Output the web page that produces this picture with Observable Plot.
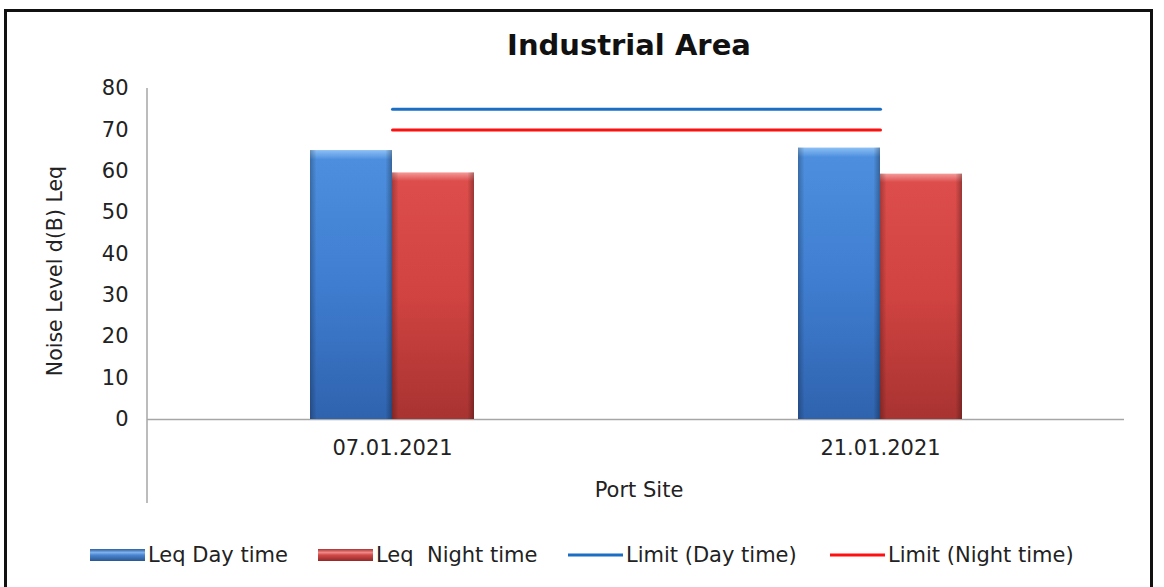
<!DOCTYPE html>
<html>
<head>
<meta charset="utf-8">
<script src="https://cdn.jsdelivr.net/npm/d3@7"></script>
<script src="https://cdn.jsdelivr.net/npm/@observablehq/plot@0.6"></script>
<style>
  html, body { margin: 0; padding: 0; background: #fff; }
  #page { position: relative; width: 1164px; height: 587px; overflow: hidden; font-family: "DejaVu Sans", Verdana, sans-serif; color: #222; }
  #border { position: absolute; left: 4px; top: 9px; width: 1149px; height: 620px; border: 3px solid #111; box-sizing: border-box; }
  #title { position: absolute; left: 0; width: 1258px; top: 28px; text-align: center; font-weight: bold; font-size: 29px; color: #111; }
  #chart { position: absolute; left: 0; top: 60px; }
  #ylabel { position: absolute; left: 55px; top: 271px; transform: translate(-50%, -50%) rotate(-90deg); white-space: nowrap; font-size: 20.5px; }
  #xlabel { position: absolute; left: 639px; top: 490px; transform: translate(-50%, -50%); white-space: nowrap; font-size: 21px; }
  .leg { position: absolute; top: 555px; transform: translateY(-50%); display: flex; align-items: center; font-size: 21px; white-space: pre; }
  .sw { display: inline-block; margin-right: 3px; }
</style>
</head>
<body>
<svg width="0" height="0" style="position:absolute">
  <defs>
    <linearGradient id="gBlue" x1="0" y1="0" x2="0" y2="1">
      <stop offset="0" stop-color="#8cc0f5"/>
      <stop offset="0.035" stop-color="#4d8fde"/>
      <stop offset="0.5" stop-color="#3f7dd0"/>
      <stop offset="1" stop-color="#2f63ae"/>
    </linearGradient>
    <linearGradient id="gRed" x1="0" y1="0" x2="0" y2="1">
      <stop offset="0" stop-color="#f49a98"/>
      <stop offset="0.035" stop-color="#dc4d4b"/>
      <stop offset="0.5" stop-color="#d04341"/>
      <stop offset="1" stop-color="#a83331"/>
    </linearGradient>
    <linearGradient id="gBlueLeg" x1="0" y1="0" x2="0" y2="1">
      <stop offset="0" stop-color="#2f5e9e"/>
      <stop offset="0.3" stop-color="#7fb3ee"/>
      <stop offset="0.5" stop-color="#4b86d2"/>
      <stop offset="1" stop-color="#2a568f"/>
    </linearGradient>
    <linearGradient id="gRedLeg" x1="0" y1="0" x2="0" y2="1">
      <stop offset="0" stop-color="#a83331"/>
      <stop offset="0.3" stop-color="#f08a88"/>
      <stop offset="0.5" stop-color="#d24a48"/>
      <stop offset="1" stop-color="#902a28"/>
    </linearGradient>
    <linearGradient id="gShade" x1="0" y1="0" x2="1" y2="0">
      <stop offset="0" stop-color="#000" stop-opacity="0.25"/>
      <stop offset="0.08" stop-color="#000" stop-opacity="0.0"/>
      <stop offset="0.92" stop-color="#000" stop-opacity="0.0"/>
      <stop offset="1" stop-color="#000" stop-opacity="0.3"/>
    </linearGradient>
  </defs>
</svg>
<div id="page">
  <div id="border"></div>
  <div id="title">Industrial Area</div>
  <div id="chart"></div>
  <div id="ylabel"></div>
  <div id="xlabel"></div>
  <div id="legend"></div>
</div>
<script>
// ---- data ----
const dates = ["07.01.2021", "21.01.2021"];
const leqDay = [65.0, 65.6];
const leqNight = [59.6, 59.3];
const limitDay = [75, 75];
const limitNight = [70, 70];
const seriesNames = ["Leq Day time", "Leq  Night time", "Limit (Day time)", "Limit (Night time)"];
const yTicks = [0, 10, 20, 30, 40, 50, 60, 70, 80];
const titleText = "Industrial Area";
const yLabelText = "Noise Level d(B) Leq";
const xLabelText = "Port Site";

const dayRows = dates.map((d, i) => ({date: d, value: leqDay[i]}));
const nightRows = dates.map((d, i) => ({date: d, value: leqNight[i]}));
const limDayRows = dates.map((d, i) => ({date: d, value: limitDay[i]}));
const limNightRows = dates.map((d, i) => ({date: d, value: limitNight[i]}));

const chart = Plot.plot({
  width: 1164,
  height: 460,
  marginLeft: 147,
  marginRight: 40,
  marginTop: 28,
  marginBottom: 101,
  style: {fontFamily: "'DejaVu Sans', Verdana, sans-serif", fontSize: "21px", color: "#222", background: "transparent", overflow: "visible"},
  x: {type: "band", domain: dates, padding: 0, tickSize: 0, tickPadding: 21, label: null},
  y: {domain: [0, 80], ticks: yTicks, tickSize: 0, tickPadding: 19, label: null},
  marks: [
    Plot.ruleY([0], {stroke: "#a6a6a6", strokeWidth: 1.5}),
    Plot.barY(dayRows, {x: "date", y: "value", fill: "url(#gBlue)", insetLeft: 162, insetRight: 244}),
    Plot.barY(dayRows, {x: "date", y: "value", fill: "url(#gShade)", insetLeft: 162, insetRight: 244}),
    Plot.barY(nightRows, {x: "date", y: "value", fill: "url(#gRed)", insetLeft: 244, insetRight: 162}),
    Plot.barY(nightRows, {x: "date", y: "value", fill: "url(#gShade)", insetLeft: 244, insetRight: 162}),
    Plot.lineY(limDayRows, {x: "date", y: "value", stroke: "#1a6fc4", strokeWidth: 3}),
    Plot.lineY(limNightRows, {x: "date", y: "value", stroke: "#ff1010", strokeWidth: 3})
  ]
});
document.getElementById("chart").appendChild(chart);

// vertical axis line, extending below zero like the reference
const ys = chart.scale("y");
d3.select(chart).append("line")
  .attr("x1", 147).attr("x2", 147)
  .attr("y1", ys.apply(80)).attr("y2", ys.apply(0) + 84)
  .attr("stroke", "#a6a6a6").attr("stroke-width", 1.5);

document.getElementById("title").textContent = titleText;
document.getElementById("ylabel").textContent = yLabelText;
document.getElementById("xlabel").textContent = xLabelText;

// legend
const legendItems = [
  {name: seriesNames[0], kind: "bar", fill: "url(#gBlueLeg)", left: 90},
  {name: seriesNames[1], kind: "bar", fill: "url(#gRedLeg)", left: 318},
  {name: seriesNames[2], kind: "line", fill: "#1a6fc4", left: 568},
  {name: seriesNames[3], kind: "line", fill: "#ff1010", left: 830}
];
const leg = d3.select("#legend");
for (const it of legendItems) {
  const item = leg.append("div").attr("class", "leg").style("left", it.left + "px");
  const sw = item.append("svg").attr("class", "sw").attr("width", 55).attr("height", 14);
  if (it.kind === "bar") {
    sw.append("rect").attr("x", 0).attr("y", 1).attr("width", 55).attr("height", 12).attr("fill", it.fill);
  } else {
    sw.append("line").attr("x1", 0).attr("x2", 55).attr("y1", 7).attr("y2", 7).attr("stroke", it.fill).attr("stroke-width", 3);
  }
  item.append("span").text(it.name);
}
</script>
</body>
</html>
